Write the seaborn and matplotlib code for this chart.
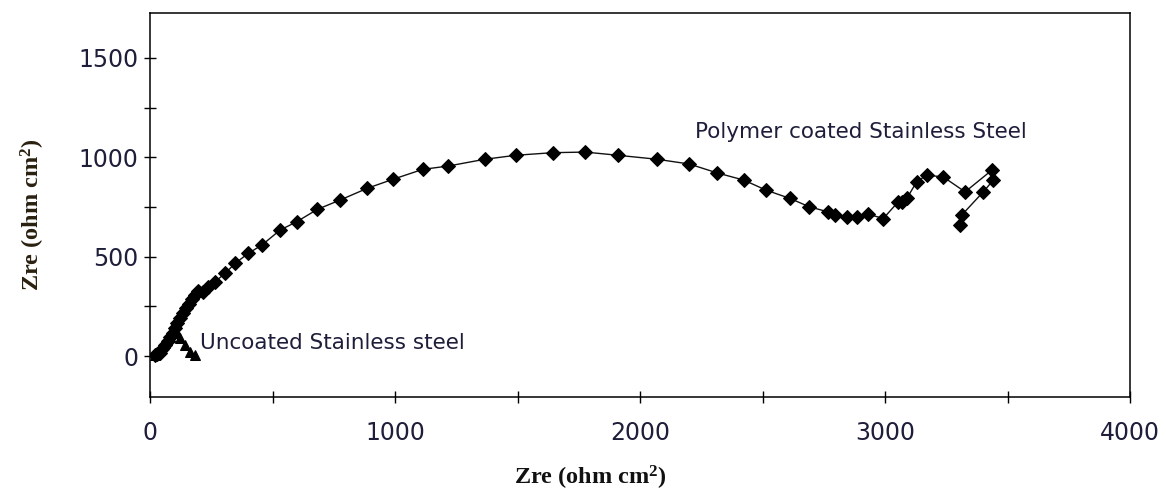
import numpy as np
import pandas as pd
import matplotlib
matplotlib.use("Agg")
import matplotlib.pyplot as plt
import seaborn as sns

# Polymer coated stainless steel (Zre, Zim)
poly_x = [20, 30, 41, 51, 61, 72, 82, 92, 102, 112, 122, 135, 147, 159, 171, 184, 196,
          218, 238, 265, 306, 347, 401, 456,
          531, 599, 683, 776, 887, 991, 1113, 1218, 1367, 1494, 1644, 1776, 1909, 2069,
          2201, 2313, 2424, 2514, 2612, 2691, 2769, 2796, 2846, 2887, 2932, 2993, 3054,
          3068, 3089, 3129, 3170, 3238, 3327, 3436, 3442, 3401, 3313, 3306]
poly_y = [5, 10, 15, 35, 55, 75, 96, 118, 141, 166, 191, 216, 241, 264, 287, 307, 327,
          323, 349, 374, 416, 466, 517, 558,
          634, 676, 738, 785, 844, 889, 939, 956, 990, 1010, 1023, 1026, 1010, 990,
          966, 922, 885, 835, 793, 751, 725, 709, 700, 700, 714, 692, 776,
          776, 793, 876, 910, 901, 826, 935, 885, 826, 709, 659]

# Uncoated stainless steel
unc_x = [20, 41, 61, 82, 102, 122, 143, 163, 184]
unc_y = [5, 30, 65, 96, 116, 90, 55, 20, 5]

x_ticks = [0, 1000, 2000, 3000, 4000]
y_ticks = [0, 500, 1000, 1500]
label_poly = "Polymer coated Stainless Steel"
label_unc = "Uncoated Stainless steel"

sns.set_style("ticks")
plt.rcParams["font.family"] = ["DejaVu Sans"]
plt.rcParams["mathtext.fontset"] = "custom"
plt.rcParams["mathtext.rm"] = "Liberation Serif:bold"
plt.rcParams["mathtext.it"] = "Liberation Serif:bold"
plt.rcParams["mathtext.bf"] = "Liberation Serif:bold"

fig = plt.figure(figsize=(11.66, 4.9), dpi=100)
ax = fig.add_axes([150/1166, (490-397)/490, 980/1166, 384/490])

dfp = pd.DataFrame({"x": poly_x, "y": poly_y})
dfu = pd.DataFrame({"x": unc_x, "y": unc_y})
sns.lineplot(data=dfp, x="x", y="y", sort=False, estimator=None, ax=ax,
             color="#111111", lw=1.0, marker="D", markersize=7,
             markerfacecolor="black", markeredgecolor="black")
sns.lineplot(data=dfu, x="x", y="y", sort=False, estimator=None, ax=ax,
             color="#111111", lw=1.0, marker="^", markersize=7.5,
             markerfacecolor="black", markeredgecolor="black")

ax.set_xlim(0, 4000)
ax.set_ylim(-205, 1725)
ax.set_xticks(x_ticks)
ax.set_xticks([500, 1500, 2500, 3500], minor=True)
ax.set_yticks(y_ticks)
ax.set_yticks([250, 750, 1250], minor=True)
tc = "#1e1e3a"
ax.tick_params(axis="both", which="both", direction="inout", length=9, width=1,
               color="black")
ax.tick_params(axis="x", which="major", labelsize=17, pad=13, labelcolor=tc)
ax.tick_params(axis="y", which="major", labelsize=17, pad=4, labelcolor=tc)
for s in ax.spines.values():
    s.set_visible(True)
    s.set_linewidth(1.1)
    s.set_color("black")

ax.set_xlabel(r"Zre (ohm cm$^{2}$)", family="Liberation Serif", fontweight="bold",
              fontsize=17.5, color="#111111")
ax.set_ylabel(r"Zre (ohm cm$^{2}$)", family="Liberation Serif", fontweight="bold",
              fontsize=17.5, color="#2a2010")
ax.xaxis.set_label_coords((590-150)/980, -0.175)
ax.yaxis.set_label_coords(-0.105, 0.474)

ax.text(2224, 1127, label_poly, fontsize=15.5, color="#1e1e3a", va="center", ha="left")
ax.text(204, 65, label_unc, fontsize=15.5, color="#1e1e3a", va="center", ha="left")

fig.savefig("out.png", dpi=100)
